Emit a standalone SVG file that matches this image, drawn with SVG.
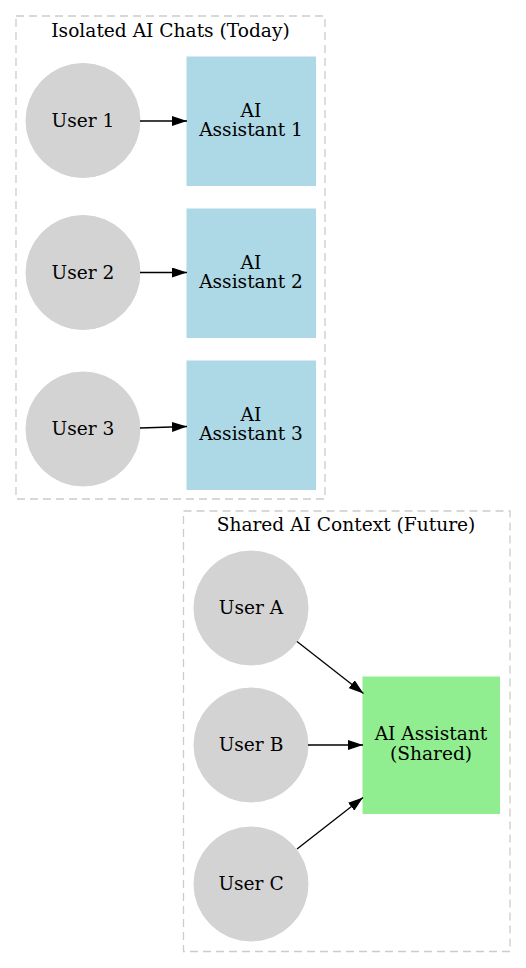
<svg xmlns="http://www.w3.org/2000/svg" width="526" height="968" viewBox="0 0 526 968">
<style>
text{font-family:"DejaVu Serif","Liberation Serif",serif;font-size:18.6px;fill:#000;text-anchor:middle}
.cl{fill:none;stroke:#cccccc;stroke-width:1.3;stroke-dasharray:8,5}
.user{fill:#d3d3d3;stroke:#d3d3d3}
.ai{fill:#add8e6;stroke:#add8e6}
.shared{fill:#90ee90;stroke:#90ee90}
.edge{stroke:#000;stroke-width:1.3;fill:none;marker-end:url(#arr)}
</style>
<defs>
<marker id="arr" viewBox="0 0 15 10" refX="15" refY="5" markerWidth="15" markerHeight="10" orient="auto" markerUnits="userSpaceOnUse"><path d="M0,0 L15,5 L0,10 z" fill="#000"/></marker>
</defs>
<rect width="526" height="968" fill="#fff"/>
<g id="cluster_today">
<rect class="cl" x="16" y="16" width="309" height="483"/>
<text x="170.5" y="36.5">Isolated AI Chats (Today)</text>
</g>
<g id="cluster_future">
<rect class="cl" x="183.5" y="511" width="326.5" height="440.5"/>
<text x="346" y="531">Shared AI Context (Future)</text>
</g>
<g id="user1"><circle class="user" cx="83" cy="120.5" r="57"/><text x="83" y="126.5">User 1</text></g>
<g id="user2"><circle class="user" cx="83" cy="272.5" r="57"/><text x="83" y="278.5">User 2</text></g>
<g id="user3"><circle class="user" cx="83" cy="429" r="57"/><text x="83" y="435">User 3</text></g>
<g id="ai1"><rect class="ai" x="187" y="57" width="128.5" height="128.5"/><text x="251" y="116.5">AI</text><text x="251" y="136">Assistant 1</text></g>
<g id="ai2"><rect class="ai" x="187" y="209" width="128.5" height="128.5"/><text x="251" y="268.5">AI</text><text x="251" y="288">Assistant 2</text></g>
<g id="ai3"><rect class="ai" x="187" y="361" width="128.5" height="128.5"/><text x="251" y="420.5">AI</text><text x="251" y="440">Assistant 3</text></g>
<g id="userA"><circle class="user" cx="251" cy="608" r="57"/><text x="251" y="614">User A</text></g>
<g id="userB"><circle class="user" cx="251" cy="745" r="57"/><text x="251" y="751">User B</text></g>
<g id="userC"><circle class="user" cx="251" cy="884" r="57"/><text x="251" y="890">User C</text></g>
<g id="shared"><rect class="shared" x="363" y="677" width="136.5" height="136.5"/><text x="431" y="740">AI Assistant</text><text x="431" y="759.5">(Shared)</text></g>
<g id="edges">
<path class="edge" d="M140,121 L187,121"/>
<path class="edge" d="M140,272.5 L187,272.5"/>
<path class="edge" d="M140,428 L187,426.5"/>
<path class="edge" d="M297,641.5 L363.5,693.5"/>
<path class="edge" d="M308,745 L363,745"/>
<path class="edge" d="M297,849 L363,797.5"/>
</g>
</svg>
